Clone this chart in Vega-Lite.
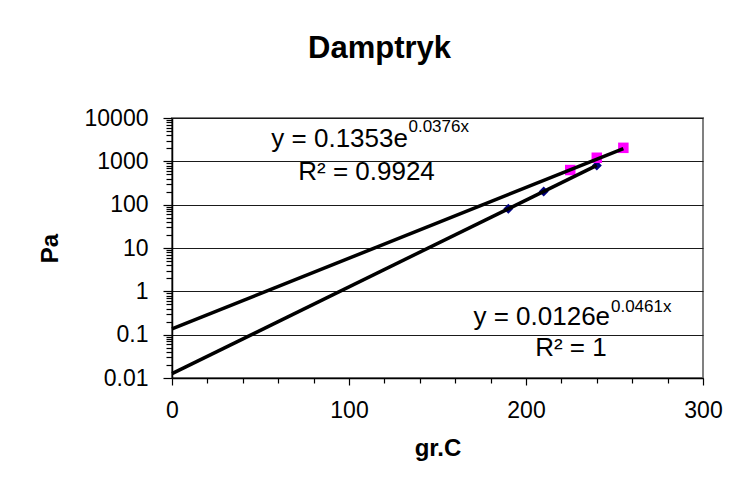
{
  "$schema": "https://vega.github.io/schema/vega-lite/v6.json",
  "width": 531,
  "height": 260,
  "autosize": {"type": "none"},
  "padding": {"left": 172, "top": 118, "right": 35, "bottom": 104},
  "background": "white",
  "config": {
    "font": "Liberation Sans",
    "view": {"stroke": "#808080", "strokeWidth": 2}
  },
  "title": {
    "text": "Damptryk",
    "fontSize": 31,
    "fontWeight": "bold",
    "font": "Liberation Sans",
    "color": "black",
    "anchor": "middle",
    "frame": "group",
    "dx": -58,
    "offset": 42
  },
  "datasets": {
    "pts": [
      {"x": 190, "y": 80, "s": "A"},
      {"x": 210, "y": 202, "s": "A"},
      {"x": 240, "y": 806, "s": "A"},
      {"x": 225, "y": 630, "s": "B"},
      {"x": 240, "y": 1210, "s": "B"},
      {"x": 255, "y": 2050, "s": "B"}
    ],
    "trend": [
      {"x": 0, "y": 0.1353, "s": "B"},
      {"x": 255, "y": 1975, "s": "B"},
      {"x": 0, "y": 0.0126, "s": "A"},
      {"x": 240, "y": 806, "s": "A"}
    ],
    "eq": [
      {"x": 133.3, "y": 3230, "t": "y = 0.1353e"},
      {"x": 247.5, "y": 0.26, "t": "y = 0.0126e"}
    ],
    "ex": [
      {"x": 133.6, "y": 6210, "t": "0.0376x"},
      {"x": 248, "y": 0.446, "t": "0.0461x"}
    ],
    "r2": [
      {"x": 109.9, "y": 553, "t": "R² = 0.9924"},
      {"x": 225.4, "y": 0.0492, "t": "R² = 1"}
    ]
  },
  "encoding": {
    "x": {
      "field": "x",
      "type": "quantitative",
      "scale": {"domain": [0, 300], "nice": false, "zero": false},
      "axis": {
        "title": "gr.C",
        "titleFont": "Liberation Sans",
        "titleFontSize": 24,
        "titleFontWeight": "bold",
        "titleColor": "black",
        "titlePadding": 14,
        "values": [0, 20, 40, 60, 80, 100, 120, 140, 160, 180, 200, 220, 240, 260, 280, 300],
        "labelExpr": "datum.value % 100 == 0 ? datum.label : ''",
        "labelFontSize": 23,
        "labelColor": "black",
        "labelPadding": 14,
        "labelFlush": false,
        "labelOverlap": false,
        "ticks": true,
        "tickColor": "black",
        "tickWidth": 1.2,
        "tickSize": {"condition": {"test": "datum.value % 100 == 0", "value": 7}, "value": 5},
        "domainColor": "black",
        "domainWidth": 1.5,
        "grid": false
      }
    },
    "y": {
      "field": "y",
      "type": "quantitative",
      "scale": {"type": "log", "domain": [0.01, 10000], "nice": false},
      "axis": {
        "title": "Pa",
        "titleFont": "Liberation Sans",
        "titleFontSize": 24,
        "titleFontWeight": "bold",
        "titleColor": "black",
        "titlePadding": 22,
        "values": [0.01, 0.02, 0.03, 0.04, 0.05, 0.06, 0.07, 0.08, 0.09, 0.1, 0.2, 0.3, 0.4, 0.5, 0.6, 0.7, 0.8, 0.9, 1, 2, 3, 4, 5, 6, 7, 8, 9, 10, 20, 30, 40, 50, 60, 70, 80, 90, 100, 200, 300, 400, 500, 600, 700, 800, 900, 1000, 2000, 3000, 4000, 5000, 6000, 7000, 8000, 9000, 10000],
        "labelExpr": "abs(log(datum.value)/LN10 - round(log(datum.value)/LN10)) < 0.001 ? toString(datum.value) : ''",
        "labelFontSize": 23,
        "labelColor": "black",
        "labelPadding": 15,
        "labelFlush": false,
        "labelOverlap": false,
        "ticks": true,
        "tickColor": "black",
        "tickWidth": 1.2,
        "tickSize": {"condition": {"test": "abs(log(datum.value)/LN10 - round(log(datum.value)/LN10)) < 0.001", "value": 9}, "value": 6},
        "domainColor": "black",
        "domainWidth": 1.5,
        "grid": true,
        "gridColor": "#1a1a1a",
        "gridWidth": 1,
        "gridOpacity": {"condition": {"test": "abs(log(datum.value)/LN10 - round(log(datum.value)/LN10)) < 0.001", "value": 1}, "value": 0}
      }
    }
  },
  "layer": [
    {
      "data": {"name": "pts"},
      "transform": [{"filter": "datum.s == 'A'"}],
      "mark": {"type": "point", "shape": "diamond", "filled": true, "color": "#000080", "size": 100, "opacity": 1}
    },
    {
      "data": {"name": "pts"},
      "transform": [{"filter": "datum.s == 'B'"}],
      "mark": {"type": "square", "color": "#ff00ff", "size": 110, "opacity": 1}
    },
    {
      "data": {"name": "trend"},
      "mark": {"type": "line", "color": "black", "strokeWidth": 3.5},
      "encoding": {"detail": {"field": "s"}}
    },
    {
      "data": {"name": "eq"},
      "mark": {"type": "text", "align": "right", "baseline": "middle", "fontSize": 26, "color": "black", "font": "Liberation Sans"},
      "encoding": {"text": {"field": "t"}}
    },
    {
      "data": {"name": "ex"},
      "mark": {"type": "text", "align": "left", "baseline": "middle", "fontSize": 17, "color": "black", "font": "Liberation Sans"},
      "encoding": {"text": {"field": "t"}}
    },
    {
      "data": {"name": "r2"},
      "mark": {"type": "text", "align": "center", "baseline": "middle", "fontSize": 26, "color": "black", "font": "Liberation Sans"},
      "encoding": {"text": {"field": "t"}}
    }
  ]
}
